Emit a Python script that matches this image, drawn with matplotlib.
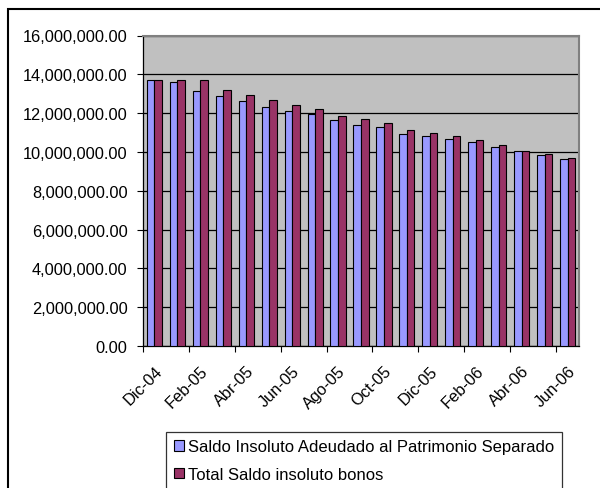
import numpy as np
import matplotlib
matplotlib.use("Agg")
import matplotlib.pyplot as plt
from matplotlib.patches import Rectangle
from matplotlib.ticker import FuncFormatter, FixedLocator
from matplotlib.transforms import ScaledTranslation

plt.rcParams['font.family'] = ['Liberation Sans', 'DejaVu Sans']

months = ["Dic-04", "Ene-05", "Feb-05", "Mar-05", "Abr-05", "May-05", "Jun-05",
          "Jul-05", "Ago-05", "Sep-05", "Oct-05", "Nov-05", "Dic-05", "Ene-06",
          "Feb-06", "Mar-06", "Abr-06", "May-06", "Jun-06"]
saldo_patrimonio = [13730000, 13610000, 13140000, 12860000, 12600000, 12340000,
                    12130000, 11930000, 11620000, 11410000, 11270000, 10940000,
                    10820000, 10680000, 10490000, 10280000, 10070000, 9830000,
                    9620000]
saldo_bonos = [13730000, 13730000, 13730000, 13210000, 12950000, 12670000,
               12410000, 12200000, 11860000, 11690000, 11480000, 11150000,
               10960000, 10820000, 10610000, 10350000, 10070000, 9880000,
               9690000]

label1 = "Saldo Insoluto Adeudado al Patrimonio Separado"
label2 = "Total Saldo insoluto bonos"

fig = plt.figure(figsize=(6, 4.89), dpi=100)
ax = fig.add_axes([143/600, 1-347/489, (579-143)/600, (347-36.5)/489])

x = np.arange(len(months))
w = 0.33
ax.bar(x - w/2, saldo_patrimonio, w, color="#9999FF", edgecolor="black",
       linewidth=0.8, label=label1, zorder=3)
ax.bar(x + w/2, saldo_bonos, w, color="#993366", edgecolor="black",
       linewidth=0.8, label=label2, zorder=3)

ax.set_facecolor("#C0C0C0")
ax.set_xlim(-0.5, len(months) - 0.5)
ax.set_ylim(0, 16000000)
ax.set_yticks(np.arange(0, 16000001, 2000000))
ax.yaxis.set_major_formatter(FuncFormatter(lambda v, p: f"{v:,.2f}"))
ax.grid(axis="y", color="black", linewidth=0.9, zorder=1)

# ticks between categories every 2 months, labels at category centres
ax.xaxis.set_major_locator(FixedLocator(np.arange(-0.5, len(months), 2)))
ax.set_xticklabels([])
ax.set_xticks(x[::2], minor=True)
ax.set_xticklabels(months[::2], minor=True, rotation=45, ha="right",
                   rotation_mode="anchor", fontsize=11.8)
shift = ScaledTranslation(-9/100, 0, fig.dpi_scale_trans)
for lbl in ax.get_xticklabels(minor=True):
    lbl.set_transform(lbl.get_transform() + shift)
ax.tick_params(axis="x", which="minor", length=0, pad=12)
ax.tick_params(axis="x", which="major", length=4, direction="out")
ax.tick_params(axis="y", length=4, labelsize=11.8, pad=7)

for s in ["top", "right"]:
    ax.spines[s].set_color("#808080")
    ax.spines[s].set_linewidth(1.5)
for s in ["left", "bottom"]:
    ax.spines[s].set_color("black")
    ax.spines[s].set_linewidth(0.9)

# outer chart frame
fig.patches.append(Rectangle((8/600, -0.05), 1.0, 1 - 10/489 + 0.05,
                             transform=fig.transFigure, fill=False,
                             edgecolor="black", linewidth=1.5))

leg = fig.legend(loc="upper left", bbox_to_anchor=(166/600, 1-433/489),
                 fontsize=12, frameon=True, fancybox=False, edgecolor="black",
                 handlelength=0.6, handleheight=0.6, handletextpad=0.3,
                 borderpad=0.45, labelspacing=0.75, borderaxespad=0)
leg.get_frame().set_linewidth(0.9)

fig.savefig("out.png", dpi=100)
